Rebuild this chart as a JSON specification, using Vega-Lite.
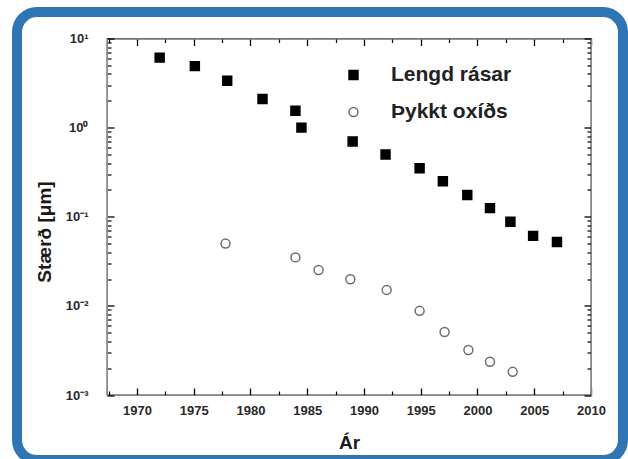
{
  "$schema": "https://vega.github.io/schema/vega-lite/v6.json",
  "width": 484,
  "height": 356.5,
  "autosize": {"type": "none"},
  "padding": {"left": 107, "top": 38.5, "right": 37, "bottom": 64},
  "background": "white",
  "config": {
    "view": {"stroke": "#333", "strokeWidth": 1.3},
    "font": "Liberation Sans",
    "axis": {
      "grid": false,
      "labelFont": "Liberation Sans",
      "labelFontSize": 13,
      "labelFontWeight": "bold",
      "labelColor": "#2a2a2a",
      "labelOverlap": false,
      "labelFlush": false,
      "titleFont": "Liberation Sans",
      "titleFontSize": 19,
      "titleFontWeight": "bold",
      "titleColor": "#1a1a1a"
    }
  },
  "data": {
    "values": [
      {"ar": 1972.0, "v": 6.1, "s": "Lengd rásar"},
      {"ar": 1975.1, "v": 4.9, "s": "Lengd rásar"},
      {"ar": 1977.95, "v": 3.35, "s": "Lengd rásar"},
      {"ar": 1981.06, "v": 2.1, "s": "Lengd rásar"},
      {"ar": 1983.96, "v": 1.55, "s": "Lengd rásar"},
      {"ar": 1984.49, "v": 1.0, "s": "Lengd rásar"},
      {"ar": 1989.0, "v": 0.70, "s": "Lengd rásar"},
      {"ar": 1991.9, "v": 0.50, "s": "Lengd rásar"},
      {"ar": 1994.9, "v": 0.35, "s": "Lengd rásar"},
      {"ar": 1996.95, "v": 0.25, "s": "Lengd rásar"},
      {"ar": 1999.1, "v": 0.175, "s": "Lengd rásar"},
      {"ar": 2001.1, "v": 0.125, "s": "Lengd rásar"},
      {"ar": 2002.9, "v": 0.088, "s": "Lengd rásar"},
      {"ar": 2004.9, "v": 0.061, "s": "Lengd rásar"},
      {"ar": 2007.0, "v": 0.052, "s": "Lengd rásar"},
      {"ar": 1977.8, "v": 0.050, "s": "Þykkt oxíðs"},
      {"ar": 1983.96, "v": 0.035, "s": "Þykkt oxíðs"},
      {"ar": 1986.0, "v": 0.0253, "s": "Þykkt oxíðs"},
      {"ar": 1988.8, "v": 0.0199, "s": "Þykkt oxíðs"},
      {"ar": 1992.0, "v": 0.0151, "s": "Þykkt oxíðs"},
      {"ar": 1994.9, "v": 0.0088, "s": "Þykkt oxíðs"},
      {"ar": 1997.1, "v": 0.0051, "s": "Þykkt oxíðs"},
      {"ar": 1999.2, "v": 0.0032, "s": "Þykkt oxíðs"},
      {"ar": 2001.1, "v": 0.00236, "s": "Þykkt oxíðs"},
      {"ar": 2003.1, "v": 0.00182, "s": "Þykkt oxíðs"}
    ]
  },
  "layer": [
    {
      "data": {"values": [{}]},
      "mark": {"type": "rect", "filled": false, "stroke": "#2e75b6", "strokeWidth": 10, "cornerRadius": 20, "clip": false},
      "encoding": {
        "x": {
          "datum": 1959.43, "type": "quantitative",
          "scale": {"domain": [1967.36, 2010], "nice": false, "zero": false},
          "axis": {"orient": "top", "title": null, "labels": false, "values": [1970, 1975, 1980, 1985, 1990, 1995, 2000, 2005, 2010], "tickSize": -7, "tickColor": "black", "tickWidth": 1.3}
        },
        "x2": {"datum": 2012.82},
        "y": {
          "datum": 19.83, "type": "quantitative",
          "scale": {"type": "log", "domain": [0.001, 10], "nice": false},
          "axis": {"orient": "right", "title": null, "labels": false, "values": [0.001, 0.01, 0.1, 1, 10], "tickSize": -7, "tickColor": "black", "tickWidth": 1.3}
        },
        "y2": {"datum": 0.0001864}
      }
    },
    {
      "data": {"values": [{}]},
      "mark": {"type": "rect", "filled": false, "stroke": "#2e75b6", "strokeOpacity": 0, "strokeWidth": 10, "cornerRadius": 20, "clip": false},
      "encoding": {
        "x": {
          "datum": 1959.43, "type": "quantitative",
          "scale": {"domain": [1967.36, 2010], "nice": false, "zero": false},
          "axis": {"orient": "top", "title": null, "labels": false, "values": [1967.5, 1972.5, 1977.5, 1982.5, 1987.5, 1992.5, 1997.5, 2002.5, 2007.5], "tickSize": -4, "tickColor": "black", "tickWidth": 1.2}
        },
        "x2": {"datum": 2012.82},
        "y": {
          "datum": 19.83, "type": "quantitative",
          "scale": {"type": "log", "domain": [0.001, 10], "nice": false},
          "axis": {"orient": "right", "title": null, "labels": false, "values": [0.002, 0.003, 0.004, 0.005, 0.006, 0.007, 0.008, 0.009, 0.02, 0.03, 0.04, 0.05, 0.06, 0.07, 0.08, 0.09, 0.2, 0.3, 0.4, 0.5, 0.6, 0.7, 0.8, 0.9, 2, 3, 4, 5, 6, 7, 8, 9], "tickSize": -4, "tickColor": "black", "tickWidth": 1.2}
        },
        "y2": {"datum": 0.0001864}
      }
    },
    {
      "data": {"values": [{}]},
      "mark": {"type": "rect", "filled": false, "stroke": "#2e75b6", "strokeOpacity": 0, "strokeWidth": 10, "cornerRadius": 20, "clip": false},
      "encoding": {
        "x": {
          "datum": 1959.43, "type": "quantitative",
          "scale": {"domain": [1967.36, 2010], "nice": false, "zero": false},
          "axis": {"orient": "bottom", "title": null, "labels": false, "values": [1967.5, 1972.5, 1977.5, 1982.5, 1987.5, 1992.5, 1997.5, 2002.5, 2007.5], "tickSize": -4, "tickColor": "black", "tickWidth": 1.2}
        },
        "x2": {"datum": 2012.82},
        "y": {
          "datum": 19.83, "type": "quantitative",
          "scale": {"type": "log", "domain": [0.001, 10], "nice": false},
          "axis": {"orient": "left", "title": null, "labels": false, "values": [0.002, 0.003, 0.004, 0.005, 0.006, 0.007, 0.008, 0.009, 0.02, 0.03, 0.04, 0.05, 0.06, 0.07, 0.08, 0.09, 0.2, 0.3, 0.4, 0.5, 0.6, 0.7, 0.8, 0.9, 2, 3, 4, 5, 6, 7, 8, 9], "tickSize": -4, "tickColor": "black", "tickWidth": 1.2}
        },
        "y2": {"datum": 0.0001864}
      }
    },
    {
      "mark": {"type": "point", "filled": true, "size": 80, "strokeWidth": 1.5, "opacity": 1},
      "encoding": {
        "x": {
          "field": "ar", "type": "quantitative",
          "scale": {"domain": [1967.36, 2010], "nice": false, "zero": false},
          "axis": {
            "orient": "bottom", "title": "Ár",
            "values": [1970, 1975, 1980, 1985, 1990, 1995, 2000, 2005, 2010],
            "format": "d",
            "tickSize": -7, "tickColor": "black", "tickWidth": 1.3,
            "labelPadding": 16,
            "titleBaseline": "alphabetic",
            "titleY": 53
          }
        },
        "y": {
          "field": "v", "type": "quantitative",
          "scale": {"type": "log", "domain": [0.001, 10], "nice": false},
          "axis": {
            "orient": "left", "title": "Stærð [μm]",
            "values": [0.001, 0.01, 0.1, 1, 10],
            "labelExpr": "datum.value == 10 ? '10¹' : datum.value == 1 ? '10⁰' : datum.value == 0.1 ? '10⁻¹' : datum.value == 0.01 ? '10⁻²' : '10⁻³'",
            "tickSize": -7, "tickColor": "black", "tickWidth": 1.3,
            "labelPadding": 26,
            "titleAngle": -90,
            "titleAlign": "center",
            "titleBaseline": "alphabetic",
            "titleX": -57,
            "titleY": 193
          }
        },
        "shape": {
          "field": "s", "type": "nominal",
          "scale": {"domain": ["Lengd rásar", "Þykkt oxíðs"], "range": ["square", "circle"]},
          "legend": {"title": null, "orient": "none", "legendX": 236, "legendY": 26, "padding": 0, "labelFont": "Liberation Sans", "labelFontSize": 21, "labelFontWeight": "bold", "labelColor": "#222", "labelOffset": 27, "rowPadding": 15, "symbolSize": 80, "symbolStrokeWidth": 1.5}
        },
        "fill": {
          "field": "s", "type": "nominal",
          "scale": {"domain": ["Lengd rásar", "Þykkt oxíðs"], "range": ["#000000", "#ffffff"]},
          "legend": {"title": null, "orient": "none", "legendX": 236, "legendY": 26, "padding": 0, "labelFont": "Liberation Sans", "labelFontSize": 21, "labelFontWeight": "bold", "labelColor": "#222", "labelOffset": 27, "rowPadding": 15, "symbolSize": 80, "symbolStrokeWidth": 1.5}
        },
        "stroke": {
          "field": "s", "type": "nominal",
          "scale": {"domain": ["Lengd rásar", "Þykkt oxíðs"], "range": ["#000000", "#6e6e6e"]},
          "legend": {"title": null, "orient": "none", "legendX": 236, "legendY": 26, "padding": 0, "labelFont": "Liberation Sans", "labelFontSize": 21, "labelFontWeight": "bold", "labelColor": "#222", "labelOffset": 27, "rowPadding": 15, "symbolSize": 80, "symbolStrokeWidth": 1.5}
        }
      }
    }
  ],
  "resolve": {"axis": {"x": "independent", "y": "independent"}}
}
